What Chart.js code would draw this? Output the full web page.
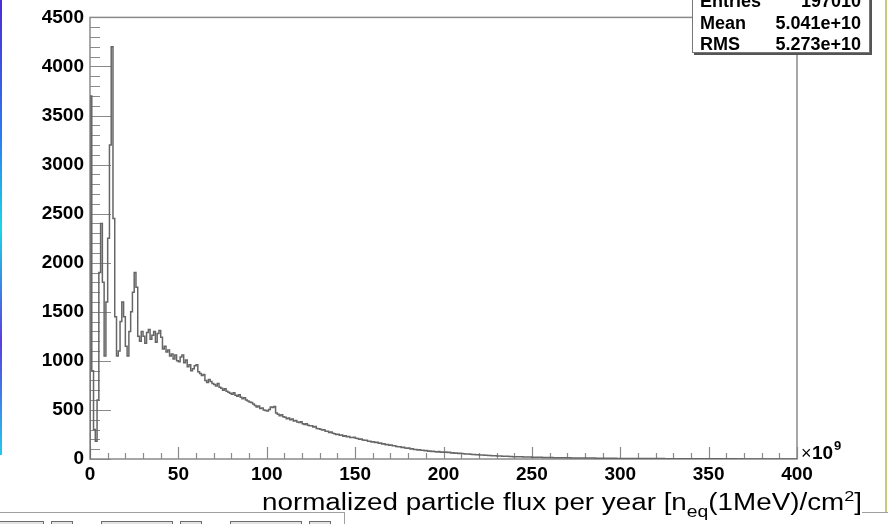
<!DOCTYPE html>
<html>
<head>
<meta charset="utf-8">
<title>normalized particle flux per year</title>
<script src="https://cdn.jsdelivr.net/npm/chart.js@4.4.1/dist/chart.umd.min.js"></script>
<style>
  body { margin: 0; background: #fff; }
  #wrap { position: relative; width: 888px; height: 524px; overflow: hidden; background: #fff; }
  #myChart { position: absolute; left: 0; top: 0; }
  .deco { position: absolute; }
  .btn { position: absolute; top: 521px; height: 8px; border: 1px solid #6d6d6d; background: #e4e4e4; box-sizing: border-box; }
</style>
</head>
<body>
<div id="wrap">
  <canvas id="myChart" width="888" height="524"></canvas>
  <!-- window bits around the canvas in the screenshot -->
  <div class="deco" style="left:0;top:0;width:2px;height:455px;background:linear-gradient(#4b2bd8,#2a7cf0 30%,#19d6e8 50%,#5a3ce0 75%,#22c8f0);"></div>
  <div class="deco" style="left:885px;top:0;width:2px;height:513px;background:#c9c77a;"></div>
  <div class="deco" style="left:0;top:512px;width:345px;height:1px;background:#a0a0a0;"></div>
  <div class="deco" style="left:862px;top:512px;width:26px;height:1px;background:#a0a0a0;"></div>
  <div class="deco" style="left:344px;top:512px;width:1px;height:12px;background:#a0a0a0;"></div>
  <div class="btn" style="left:-1px;width:45px;"></div>
  <div class="btn" style="left:51px;width:22px;"></div>
  <div class="btn" style="left:101px;width:72px;"></div>
  <div class="btn" style="left:180px;width:22px;"></div>
  <div class="btn" style="left:230px;width:72px;"></div>
  <div class="btn" style="left:309px;width:22px;"></div>
</div>
<script>
'use strict'
// ==> data _________________________________________________________________
let binWidth = 1; // in units of 10^9 n_eq/cm^2
let xTicks = [0, 50, 100, 150, 200, 250, 300, 350, 400];
let yTicks = [0, 500, 1000, 1500, 2000, 2500, 3000, 3500, 4000, 4500];
let statNames = ['Entries', 'Mean', 'RMS'];
let statValues = ['197010', '5.041e+10', '5.273e+10'];
let xTitle = 'normalized particle flux per year';
let xUnit = ['[n', 'eq', '(1MeV)/cm', '2', ']'];

// counts per bin, 400 bins from 0 to 400
let counts = [
    3700, 900, 300, 180, 600, 1900, 2400, 1800, 1050, 1600,
    2250, 3200, 4200, 2450, 1450, 1050, 1100, 1400, 1600, 1450,
    1150, 1050, 1300, 1500, 1700, 1900, 1750, 1250, 1200, 1300,
    1250, 1180, 1290, 1320, 1220, 1260, 1300, 1190, 1280, 1310,
    1240, 1120, 1150, 1090, 1110, 1050, 1070, 1020, 1060, 1000,
    990, 1040, 1060, 980, 1010, 940, 960, 900, 920, 950,
    960, 890, 870, 850, 860, 800, 780, 810, 790, 770,
    760, 745, 770, 730, 720, 700, 715, 690, 680, 670,
    660, 675, 650, 640, 655, 630, 615, 625, 600, 590,
    580, 575, 560, 545, 530, 540, 515, 520, 500, 495,
    490, 505, 530, 525, 535, 470, 455, 440, 450, 430,
    425, 410, 418, 400, 408, 388, 392, 378, 372, 380,
    360, 352, 358, 345, 340, 338, 325, 330, 312, 308,
    302, 296, 298, 284, 282, 270, 276, 262, 258, 250,
    252, 242, 244, 232, 236, 226, 230, 220, 218, 222,
    212, 208, 200, 204, 194, 190, 192, 180, 182, 174,
    176, 168, 170, 160, 162, 152, 156, 146, 148, 140,
    142, 134, 136, 128, 124, 126, 116, 120, 112, 110,
    112, 102, 104, 96, 98, 92, 94, 88, 90, 84,
    86, 80, 82, 76, 80, 74, 72, 76, 70, 72,
    68, 72, 66, 68, 62, 64, 58, 60, 56, 58,
    55, 54, 52, 51, 50, 48, 47, 46, 44, 43,
    42, 40, 40, 38, 37, 36, 35, 34, 33, 32,
    31, 30, 30, 29, 28, 27, 27, 26, 25, 24,
    24, 23, 23, 22, 22, 21, 21, 20, 20, 20,
    19, 19, 18, 18, 17, 17, 16, 16, 16, 15,
    15, 15, 14, 14, 14, 13, 13, 13, 12, 12,
    12, 12, 11, 11, 11, 11, 10, 10, 10, 10,
    10, 9, 9, 9, 9, 9, 8, 8, 8, 8,
    8, 8, 7, 7, 7, 7, 7, 7, 6, 6,
    6, 6, 6, 6, 6, 5, 5, 5, 5, 5,
    5, 5, 5, 5, 4, 4, 4, 4, 4, 4,
    4, 4, 4, 4, 4, 3, 3, 3, 3, 3,
    3, 3, 3, 3, 3, 3, 3, 3, 3, 3,
    3, 2, 3, 2, 2, 3, 2, 2, 2, 2,
    2, 2, 2, 2, 2, 2, 2, 2, 2, 2,
    2, 2, 1, 2, 1, 2, 1, 1, 2, 1,
    1, 1, 1, 1, 1, 1, 1, 1, 1, 1,
    1, 1, 1, 1, 1, 1, 0, 1, 1, 0,
    1, 0, 1, 1, 0, 1, 0, 0, 1, 0
];
//__________________________________________________________________________==<

// step outline: start at the baseline, one point per low edge, close at the last edge
let histPoints = [{ x: 0, y: 0 }];
for (let i = 0; i < counts.length; i++) {
    histPoints.push({ x: i * binWidth, y: counts[i] });
}
histPoints.push({ x: counts.length * binWidth, y: counts[counts.length - 1] });

let axisGrey = '#8a8a8a';
let fontName = "'Liberation Sans', Arial, sans-serif";
let labelFont = { family: fontName, size: 19, weight: 'bold' };

// ROOT-like frame and inward ticks, under the histogram
let rootFrame = {
    id: 'rootFrame',
    beforeDatasetsDraw(chart) {
        let ctx = chart.ctx;
        let a = chart.chartArea;
        let sx = chart.scales.x;
        let sy = chart.scales.y;
        ctx.save();
        ctx.strokeStyle = axisGrey;
        ctx.lineWidth = 1.5;
        ctx.strokeRect(a.left, a.top, a.right - a.left, a.bottom - a.top);

        ctx.lineWidth = 1.2;
        ctx.beginPath();
        for (let v = 0; v <= 4500; v += 100) {
            let y = Math.round(sy.getPixelForValue(v)) + 0.5;
            let len = (v % 500 === 0) ? 21 : 10;
            ctx.moveTo(a.left, y);
            ctx.lineTo(a.left + len, y);
        }
        for (let v = 0; v <= 400; v += 10) {
            let x = Math.round(sx.getPixelForValue(v)) + 0.5;
            let len = (v % 50 === 0) ? 12 : 6;
            ctx.moveTo(x, a.bottom);
            ctx.lineTo(x, a.bottom - len);
        }
        ctx.stroke();
        ctx.restore();
    }
};

// exponent, stats box and axis title
let rootText = {
    id: 'rootText',
    afterDraw(chart) {
        let ctx = chart.ctx;
        let a = chart.chartArea;
        ctx.save();
        ctx.fillStyle = '#000';
        ctx.textBaseline = 'alphabetic';
        ctx.textAlign = 'left';
        ctx.font = '18px ' + fontName;
        ctx.fillText('\u00d7', a.right + 4, a.bottom);
        ctx.font = 'bold 19px ' + fontName;
        ctx.fillText('10', a.right + 15, a.bottom);
        ctx.font = 'bold 13px ' + fontName;
        ctx.fillText('9', a.right + 37, a.bottom - 9);

        // stats box (top is cut by the window)
        let bx = 692, bw = 178, by = -20, bh = 73;
        ctx.fillStyle = '#555';
        ctx.fillRect(bx + 2, by + 2, bw, bh);
        ctx.fillStyle = '#fff';
        ctx.fillRect(bx, by, bw, bh);
        ctx.strokeStyle = '#777';
        ctx.lineWidth = 1;
        ctx.strokeRect(bx + 0.5, by + 0.5, bw - 1, bh - 1);
        ctx.fillStyle = '#000';
        ctx.font = 'bold 18px ' + fontName;
        let rows = [7, 29, 49.5];
        for (let i = 0; i < statNames.length; i++) {
            ctx.textAlign = 'left';
            ctx.fillText(statNames[i], 700, rows[i]);
            ctx.textAlign = 'right';
            ctx.fillText(statValues[i], 861, rows[i]);
        }

        // axis title with subscript and superscript, stretched to the width in the picture
        let parts = [
            { t: xTitle + ' ' + xUnit[0], size: 23, dy: 0 },
            { t: xUnit[1], size: 16, dy: 7 },
            { t: xUnit[2], size: 23, dy: 0 },
            { t: xUnit[3], size: 15, dy: -9 },
            { t: xUnit[4], size: 23, dy: 0 }
        ];
        let total = 0;
        for (let p of parts) {
            ctx.font = p.size + 'px ' + fontName;
            p.w = ctx.measureText(p.t).width;
            total += p.w;
        }
        let left = 262, right = 862;
        let k = (right - left) / total;
        ctx.translate(left, 510);
        ctx.scale(k, 1);
        let x = 0;
        ctx.textAlign = 'left';
        for (let p of parts) {
            ctx.font = p.size + 'px ' + fontName;
            ctx.fillText(p.t, x, p.dy);
            x += p.w;
        }
        ctx.restore();
    }
};

function chartRender() {
    let ctx = document.getElementById('myChart').getContext('2d');
    let myChart = new Chart(ctx, {
        type: 'line',
        data: {
            datasets: [{
                label: 'flux',
                data: histPoints,
                // horizontal first: each bin keeps its value until the next low edge
                stepped: 'before',
                borderColor: '#666666',
                borderWidth: 1.5,
                pointRadius: 0,
                fill: false
            }]
        },
        options: {
            responsive: false,
            animation: false,
            layout: { padding: { left: 0, top: 17, right: 91, bottom: 0 } },
            plugins: { legend: { display: false }, tooltip: { enabled: false } },
            scales: {
                x: {
                    type: 'linear',
                    min: 0,
                    max: 400,
                    grid: { display: false, drawTicks: false },
                    border: { display: false },
                    afterBuildTicks: (axis) => { axis.ticks = xTicks.map(v => ({ value: v })); },
                    afterFit: (axis) => { axis.height = 65; },
                    ticks: { color: '#000', font: labelFont, padding: 4, maxRotation: 0, autoSkip: false, callback: (v) => String(v) }
                },
                y: {
                    min: 0,
                    max: 4500,
                    grid: { display: false, drawTicks: false },
                    border: { display: false },
                    afterBuildTicks: (axis) => { axis.ticks = yTicks.map(v => ({ value: v })); },
                    afterFit: (axis) => { axis.width = 90; },
                    ticks: { color: '#000', font: labelFont, padding: 6, autoSkip: false, callback: (v) => String(v) }
                }
            }
        },
        plugins: [rootFrame, rootText]
    });
}

chartRender();
</script>
</body>
</html>
